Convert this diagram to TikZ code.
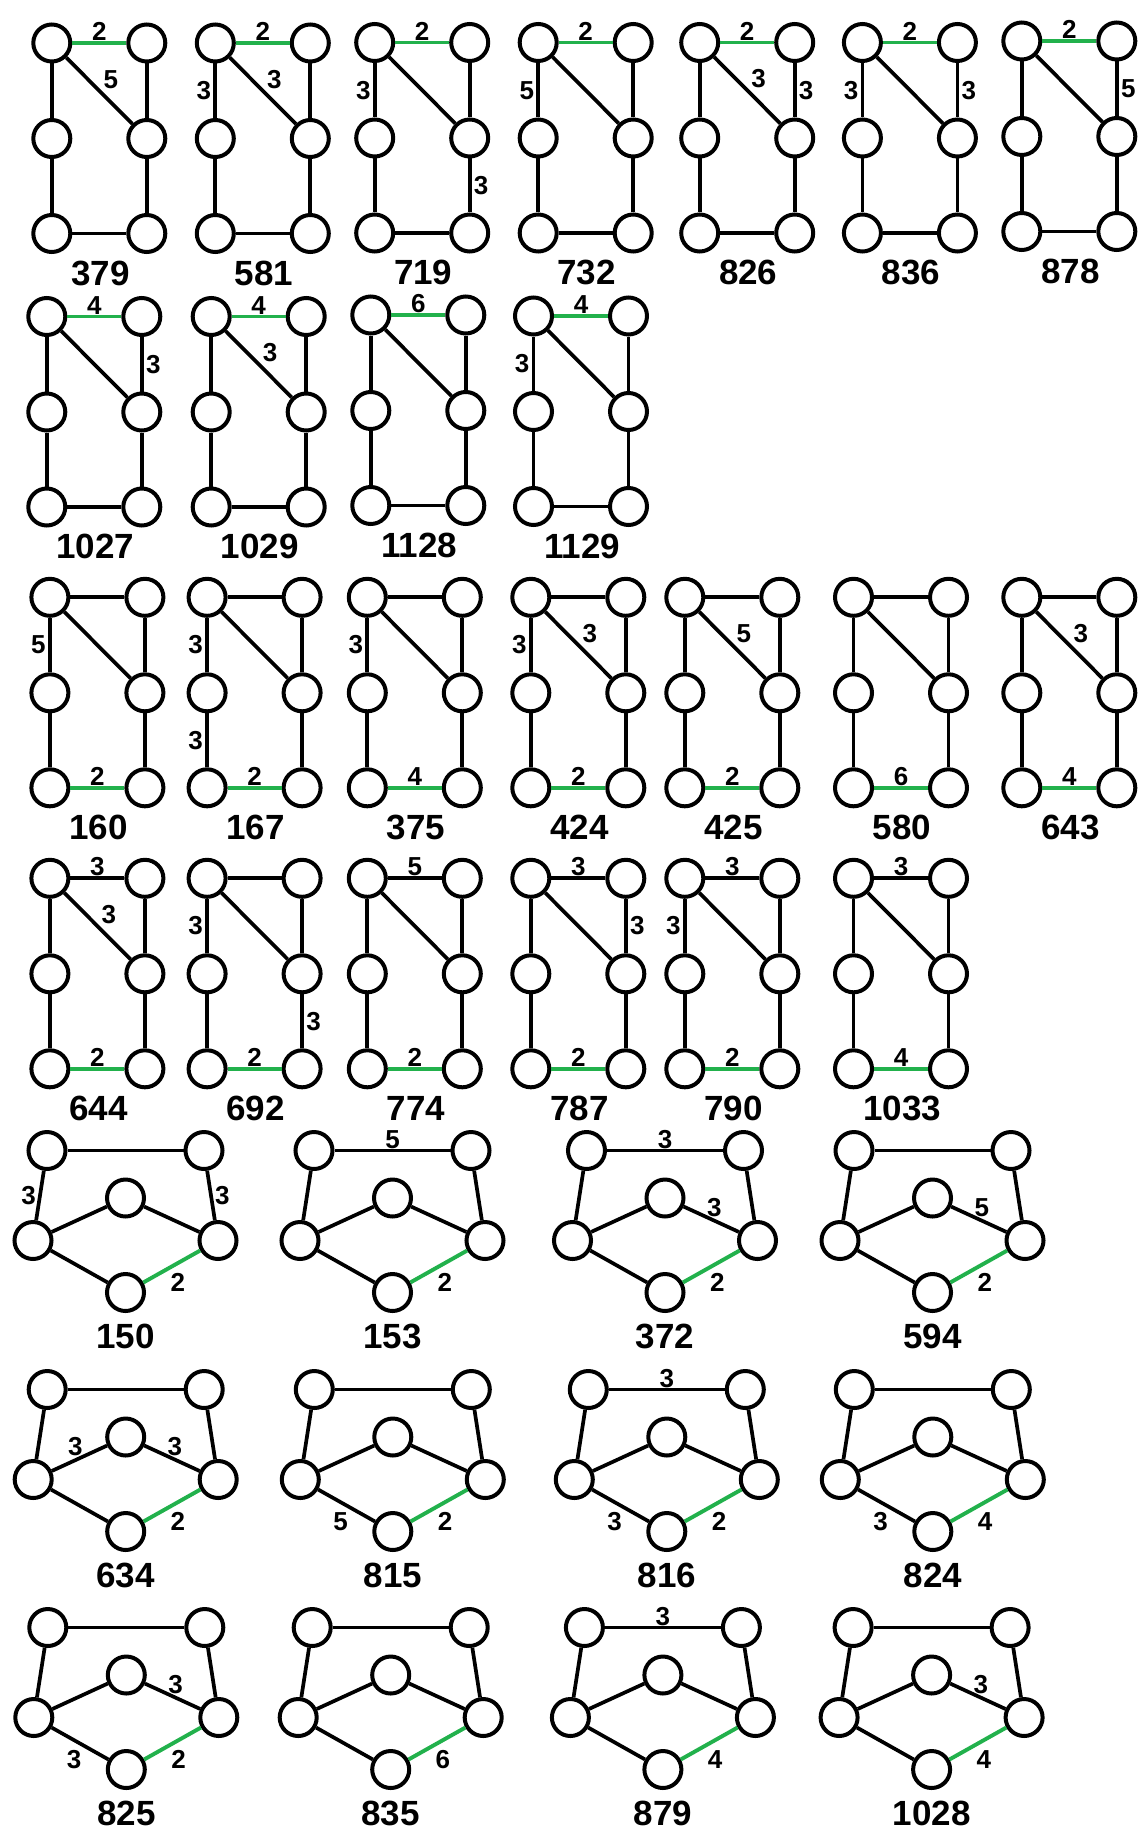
\documentclass[tikz,border=0pt]{standalone}
\usepackage{fontspec}
\setmainfont{Liberation Sans}
\definecolor{pgreen}{RGB}{34,177,76}

% ladder graph: #1 name, #2/#3 top left vertex, #4 number, #5 top link, #6 bottom link
\newcommand{\rectgraph}[6]{%
  \begin{scope}[shift={(#2,#3)}]
    \node [vert] (#1tl) at (0,0) {};
    \node [vert] (#1tr) at (95,0) {};
    \node [vert] (#1ml) at (0,95.5) {};
    \node [vert] (#1mr) at (95,95.5) {};
    \node [vert] (#1bl) at (0,190.5) {};
    \node [vert] (#1br) at (95,190.5) {};
    \node [gnum] (#1n) at (48.5,230) {#4};
    \path [#5] (#1tl) -- (#1tr);
    \path [#6] (#1bl) -- (#1br);
    \path [link] (#1tl) -- (#1ml);
    \path [link] (#1ml) -- (#1bl);
    \path [link] (#1tr) -- (#1mr);
    \path [link] (#1mr) -- (#1br);
    \path [link] (#1tl) -- (#1mr);
  \end{scope}
}

% pentagon graph: #1 name, #2/#3 centre vertex, #4 number
\newcommand{\pentgraph}[4]{%
  \begin{scope}[shift={(#2,#3)}]
    \node [vert] (#1tl) at (-78.5,-47.5) {};
    \node [vert] (#1tr) at (78.5,-47.5) {};
    \node [vert] (#1c) at (0,0) {};
    \node [vert] (#1l) at (-92.5,42.5) {};
    \node [vert] (#1r) at (92.5,42.5) {};
    \node [vert] (#1b) at (0,94.5) {};
    \node [gnum] (#1n) at (0,138.5) {#4};
    \path [link] (#1tl) -- (#1tr);
    \path [link] (#1tl) -- (#1l);
    \path [link] (#1tr) -- (#1r);
    \path [link] (#1l) -- (#1c);
    \path [link] (#1c) -- (#1r);
    \path [link] (#1l) -- (#1b);
    \path [glink] (#1b) -- (#1r);
  \end{scope}
}

\begin{document}
\begin{tikzpicture}[x=1pt, y=-1pt,
    vert/.style={circle, draw, fill=white, line width=4pt, minimum size=37pt, inner sep=0pt},
    link/.style={draw, line width=3.7pt},
    glink/.style={draw=pgreen, line width=3.9pt},
    gnum/.style={font=\fontsize{35}{35}\selectfont\bfseries, inner sep=0pt},
    wt/.style={font=\fontsize{26}{26}\selectfont\bfseries, inner xsep=4pt, inner ysep=2pt},
    lowl/.style={below=5pt, xshift=-6pt},
    lowr/.style={below=5pt, xshift=6pt},
    upr/.style={above, xshift=3pt}
  ]
  \useasboundingbox (0,0) rectangle (1144,1843);

  % row 1
  \rectgraph{a}{51.8}{43}{379}{glink}{link}
  \path (atl) -- node [wt, above] (aw1) {2} (atr);
  \path (atl) -- node [wt, above right] (aw2) {5} (amr);

  \rectgraph{b}{215.3}{43}{581}{glink}{link}
  \path (btl) -- node [wt, above] (bw1) {2} (btr);
  \path (btl) -- node [wt, left] (bw2) {3} (bml);
  \path (btl) -- node [wt, above right] (bw3) {3} (bmr);

  \rectgraph{c}{374.7}{42.5}{719}{glink}{link}
  \path (ctl) -- node [wt, above] (cw1) {2} (ctr);
  \path (ctl) -- node [wt, left] (cw2) {3} (cml);
  \path (cmr) -- node [wt, right] (cw3) {3} (cbr);

  \rectgraph{d}{538.2}{42.5}{732}{glink}{link}
  \path (dtl) -- node [wt, above] (dw1) {2} (dtr);
  \path (dtl) -- node [wt, left] (dw2) {5} (dml);

  \rectgraph{e}{699.7}{42.5}{826}{glink}{link}
  \path (etl) -- node [wt, above] (ew1) {2} (etr);
  \path (etl) -- node [wt, above right] (ew2) {3} (emr);
  \path (etr) -- node [wt, right] (ew3) {3} (emr);

  \rectgraph{f}{862.4}{42.5}{836}{glink}{link}
  \path (ftl) -- node [wt, above] (fw1) {2} (ftr);
  \path (ftl) -- node [wt, left] (fw2) {3} (fml);
  \path (ftr) -- node [wt, right] (fw3) {3} (fmr);

  \rectgraph{g}{1021.8}{41}{878}{glink}{link}
  \path (gtl) -- node [wt, above] (gw1) {2} (gtr);
  \path (gtr) -- node [wt, right] (gw2) {5} (gmr);

  % row 2
  \rectgraph{h}{46.8}{316.5}{1027}{glink}{link}
  \path (htl) -- node [wt, above] (hw1) {4} (htr);
  \path (htr) -- node [wt, right] (hw2) {3} (hmr);

  \rectgraph{i}{211.2}{316.5}{1029}{glink}{link}
  \path (itl) -- node [wt, above] (iw1) {4} (itr);
  \path (itl) -- node [wt, above right] (iw2) {3} (imr);

  \rectgraph{j}{370.8}{315}{1128}{glink}{link}
  \path (jtl) -- node [wt, above] (jw1) {6} (jtr);

  \rectgraph{k}{533.5}{316}{1129}{glink}{link}
  \path (ktl) -- node [wt, above] (kw1) {4} (ktr);
  \path (ktl) -- node [wt, left] (kw2) {3} (kml);

  % row 3
  \rectgraph{m}{49.9}{597.3}{160}{link}{glink}
  \path (mtl) -- node [wt, left] (mw1) {5} (mml);
  \path (mbl) -- node [wt, above] (mw2) {2} (mbr);

  \rectgraph{o}{207.1}{597.3}{167}{link}{glink}
  \path (otl) -- node [wt, left] (ow1) {3} (oml);
  \path (oml) -- node [wt, left] (ow2) {3} (obl);
  \path (obl) -- node [wt, above] (ow3) {2} (obr);

  \rectgraph{p}{367.3}{597.3}{375}{link}{glink}
  \path (ptl) -- node [wt, left] (pw1) {3} (pml);
  \path (pbl) -- node [wt, above] (pw2) {4} (pbr);

  \rectgraph{q}{530.8}{597.3}{424}{link}{glink}
  \path (qtl) -- node [wt, left] (qw1) {3} (qml);
  \path (qtl) -- node [wt, above right] (qw2) {3} (qmr);
  \path (qbl) -- node [wt, above] (qw3) {2} (qbr);

  \rectgraph{r}{684.8}{597.3}{425}{link}{glink}
  \path (rtl) -- node [wt, above right] (rw1) {5} (rmr);
  \path (rbl) -- node [wt, above] (rw2) {2} (rbr);

  \rectgraph{s}{853.5}{597.3}{580}{link}{glink}
  \path (sbl) -- node [wt, above] (sw1) {6} (sbr);

  \rectgraph{t}{1021.8}{597.3}{643}{link}{glink}
  \path (ttl) -- node [wt, above right] (tw1) {3} (tmr);
  \path (tbl) -- node [wt, above] (tw2) {4} (tbr);

  % row 4
  \rectgraph{u}{49.9}{878.3}{644}{link}{glink}
  \path (utl) -- node [wt, above] (uw1) {3} (utr);
  \path (utl) -- node [wt, above right] (uw2) {3} (umr);
  \path (ubl) -- node [wt, above] (uw3) {2} (ubr);

  \rectgraph{v}{207.1}{878.3}{692}{link}{glink}
  \path (vtl) -- node [wt, left] (vw1) {3} (vml);
  \path (vmr) -- node [wt, right] (vw2) {3} (vbr);
  \path (vbl) -- node [wt, above] (vw3) {2} (vbr);

  \rectgraph{w}{367.3}{878.3}{774}{link}{glink}
  \path (wtl) -- node [wt, above] (ww1) {5} (wtr);
  \path (wbl) -- node [wt, above] (ww2) {2} (wbr);

  \rectgraph{x}{530.8}{878.3}{787}{link}{glink}
  \path (xtl) -- node [wt, above] (xw1) {3} (xtr);
  \path (xtr) -- node [wt, right] (xw2) {3} (xmr);
  \path (xbl) -- node [wt, above] (xw3) {2} (xbr);

  \rectgraph{y}{684.8}{878.3}{790}{link}{glink}
  \path (ytl) -- node [wt, above] (yw1) {3} (ytr);
  \path (ytl) -- node [wt, left] (yw2) {3} (yml);
  \path (ybl) -- node [wt, above] (yw3) {2} (ybr);

  \rectgraph{z}{853.5}{878.3}{1033}{link}{glink}
  \path (ztl) -- node [wt, above] (zw1) {3} (ztr);
  \path (zbl) -- node [wt, above] (zw2) {4} (zbr);

  % row 5
  \pentgraph{pa}{125.5}{1198}{150}
  \path (patl) -- node [wt, left] (paw1) {3} (pal);
  \path (patr) -- node [wt, right] (paw2) {3} (par);
  \path (pab) -- node [wt, lowr] (paw3) {2} (par);

  \pentgraph{pb}{392.5}{1198}{153}
  \path (pbtl) -- node [wt, above] (pbw1) {5} (pbtr);
  \path (pbb) -- node [wt, lowr] (pbw2) {2} (pbr);

  \pentgraph{pc}{665}{1198}{372}
  \path (pctl) -- node [wt, above] (pcw1) {3} (pctr);
  \path (pcc) -- node [wt, upr] (pcw2) {3} (pcr);
  \path (pcb) -- node [wt, lowr] (pcw3) {2} (pcr);

  \pentgraph{pd}{932.5}{1198}{594}
  \path (pdc) -- node [wt, upr] (pdw1) {5} (pdr);
  \path (pdb) -- node [wt, lowr] (pdw2) {2} (pdr);

  % row 6
  \pentgraph{pe}{125.7}{1437}{634}
  \path (pel) -- node [wt, above, xshift=-4pt] (pew1) {3} (pec);
  \path (pec) -- node [wt, upr] (pew2) {3} (per);
  \path (peb) -- node [wt, lowr] (pew3) {2} (per);

  \pentgraph{pf}{392.8}{1437}{815}
  \path (pfl) -- node [wt, lowl] (pfw1) {5} (pfb);
  \path (pfb) -- node [wt, lowr] (pfw2) {2} (pfr);

  \pentgraph{pg}{666.8}{1437}{816}
  \path (pgtl) -- node [wt, above] (pgw1) {3} (pgtr);
  \path (pgl) -- node [wt, lowl] (pgw2) {3} (pgb);
  \path (pgb) -- node [wt, lowr] (pgw3) {2} (pgr);

  \pentgraph{ph}{932.8}{1437}{824}
  \path (phl) -- node [wt, lowl] (phw1) {3} (phb);
  \path (phb) -- node [wt, lowr] (phw2) {4} (phr);

  % row 7
  \pentgraph{pi}{126.3}{1675}{825}
  \path (pic) -- node [wt, upr] (piw1) {3} (pir);
  \path (pil) -- node [wt, lowl] (piw2) {3} (pib);
  \path (pib) -- node [wt, lowr] (piw3) {2} (pir);

  \pentgraph{pj}{390.7}{1675}{835}
  \path (pjb) -- node [wt, lowr] (pjw1) {6} (pjr);

  \pentgraph{pk}{662.9}{1675}{879}
  \path (pktl) -- node [wt, above] (pkw1) {3} (pktr);
  \path (pkb) -- node [wt, lowr] (pkw2) {4} (pkr);

  \pentgraph{pm}{931.6}{1675}{1028}
  \path (pmc) -- node [wt, upr] (pmw1) {3} (pmr);
  \path (pmb) -- node [wt, lowr] (pmw2) {4} (pmr);
\end{tikzpicture}
\end{document}
